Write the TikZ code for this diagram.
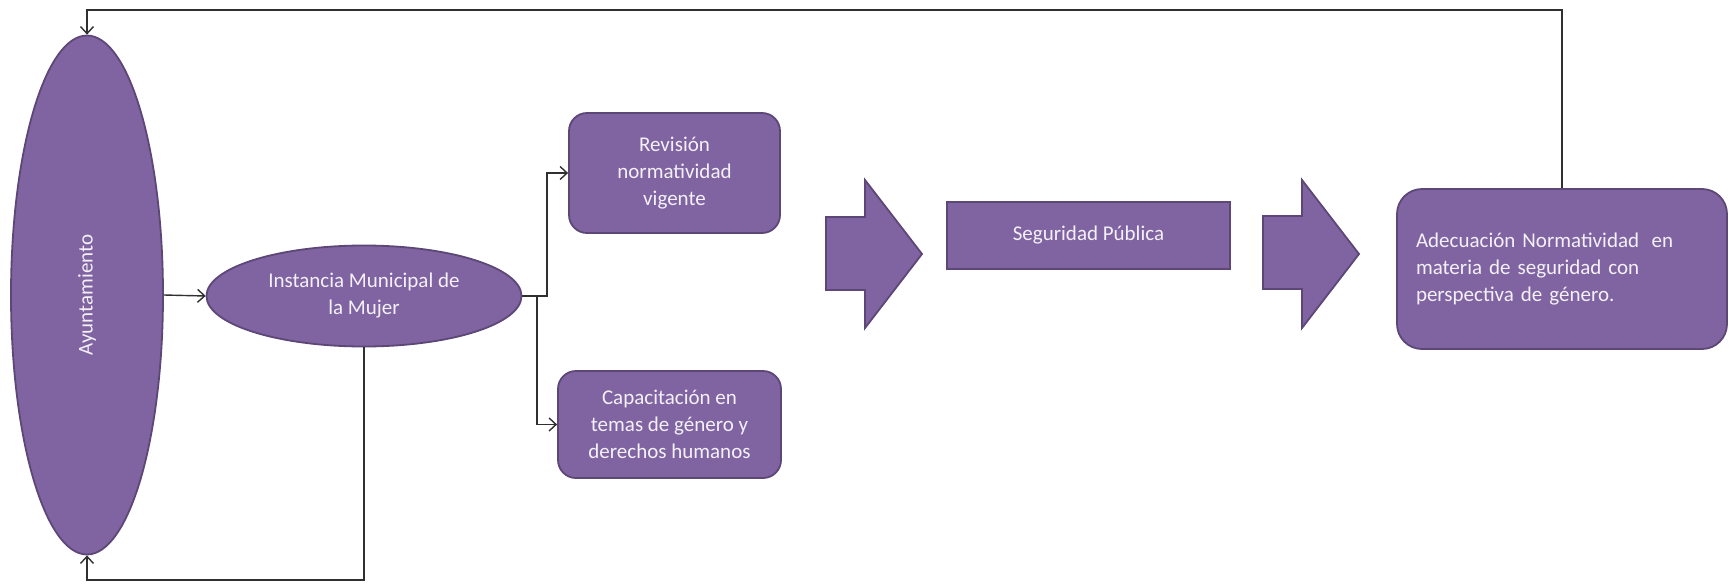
\documentclass[tikz,border=0pt]{standalone}
\usepackage{fontspec}
\setmainfont{Carlito}
\usetikzlibrary{shapes.geometric,arrows.meta,calc}
\definecolor{pfill}{HTML}{8064A2}
\definecolor{pdraw}{HTML}{5C4776}
\definecolor{ctext}{HTML}{F4F0F8}
\definecolor{lcol}{HTML}{303030}
\begin{document}
\begin{tikzpicture}[x=1pt,y=-1pt,
  font=\fontsize{21}{27}\selectfont,
  shp/.style={fill=pfill,draw=pdraw,line width=1.8pt,text=ctext,inner sep=0pt,align=center},
  ell/.style={shp,ellipse},
  rbox/.style={shp,rounded corners=18pt},
  sbox/.style={shp},
  barrow/.style={fill=pfill,draw=pdraw,line width=1.8pt,line join=miter},
  conn/.style={draw=lcol,line width=1.4pt,-{Straight Barb[length=7pt,width=13pt,line width=1.4pt]}},
]
\useasboundingbox (0,0) rectangle (1730,584);

\node[ell,minimum width=152pt,minimum height=519pt] (ayu) at (87,295) {};
\node[rotate=90,text=ctext] (ayut) at (ayu.center) {Ayuntamiento};
\node[ell,minimum width=315pt,minimum height=101pt] (ims) at (364,296) {Instancia Municipal de\\la Mujer};
\node[rbox,minimum width=211pt,minimum height=120pt] (rev) at (674.5,173) {Revisión\\normatividad\\vigente};
\node[rbox,minimum width=223pt,minimum height=107pt] (cap) at (669.5,424.5) {Capacitación en\\temas de género y\\derechos humanos};
\node[sbox,minimum width=283pt,minimum height=67pt] (seg) at (1088.5,235.5) {Seguridad Pública};
\node[rbox,rounded corners=25pt,minimum width=330pt,minimum height=160pt,text width=292pt,align=left] (ade) at (1562,269) {Adecuación Normatividad\hspace{0.6em}en\\materia de seguridad con\\perspectiva de género.};

% block arrows
\path[barrow] (826,217) -- (865,217) -- (865,180) -- (922,254) -- (865,328) -- (865,290) -- (826,290) -- cycle;
\path[barrow] (1263,216) -- (1302,216) -- (1302,180) -- (1359,254) -- (1302,328) -- (1302,289) -- (1263,289) -- cycle;

% connectors
\coordinate (topy) at (0,10);
\coordinate (boty) at (0,580);
\coordinate (bx1) at (547,0);
\coordinate (bx2) at (537,0);
\draw[conn] (ade.north) |- (ayu.north |- topy) -- (ayu.north);
\draw[conn] (ims.south) |- (ayu.south |- boty) -- (ayu.south);
\draw[conn] (ayu.east) -- (ims.west);
\draw[conn] (ims.east) -- (ims.east -| bx1) |- (rev.west);
\draw[conn] (ims.east) -- (ims.east -| bx2) |- (cap.west);
\end{tikzpicture}
\end{document}
